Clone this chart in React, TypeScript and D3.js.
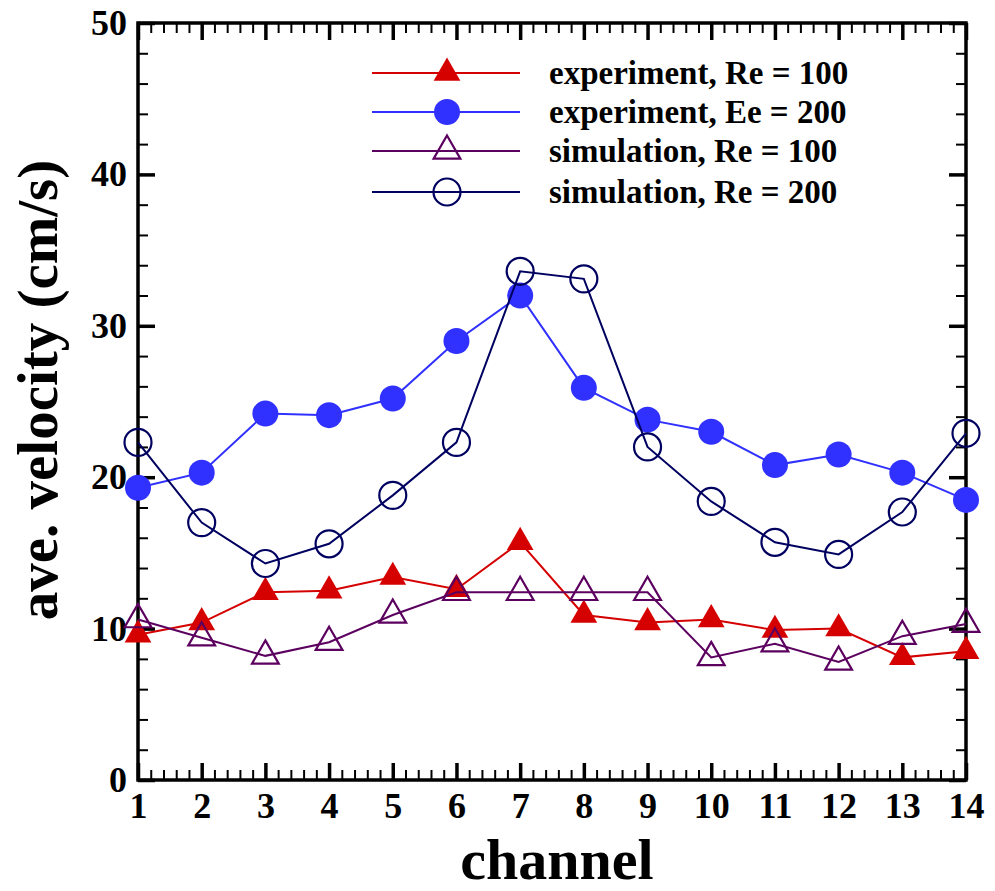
import * as d3 from "d3";
import { useEffect, useRef } from "react";

const channels = [1, 2, 3, 4, 5, 6, 7, 8, 9, 10, 11, 12, 13, 14];
const expRe100 = [9.6, 10.4, 12.4, 12.5, 13.4, 12.6, 15.7, 10.9, 10.4, 10.6, 9.9, 10.0, 8.1, 8.5];
const expRe200 = [19.3, 20.3, 24.2, 24.1, 25.2, 29.0, 32.0, 25.9, 23.8, 23.0, 20.8, 21.5, 20.3, 18.5];
const simRe100 = [10.6, 9.4, 8.2, 9.1, 10.9, 12.4, 12.4, 12.4, 12.4, 8.1, 9.0, 7.8, 9.5, 10.3];
const simRe200 = [22.3, 17.0, 14.3, 15.6, 18.8, 22.3, 33.6, 33.1, 22.0, 18.4, 15.7, 14.9, 17.7, 22.9];
const seriesNames = [
  "experiment, Re = 100",
  "experiment, Ee = 200",
  "simulation, Re = 100",
  "simulation, Re = 200",
];
const yTicks = [0, 10, 20, 30, 40, 50];

const series = [
  { name: seriesNames[0], values: expRe100, color: "#d50000", shape: "triangle", filled: true },
  { name: seriesNames[1], values: expRe200, color: "#3030ff", shape: "circle", filled: true },
  { name: seriesNames[2], values: simRe100, color: "#5c0060", shape: "triangle", filled: false },
  { name: seriesNames[3], values: simRe200, color: "#000060", shape: "circle", filled: false },
];

const FONT = "'Liberation Serif', 'Times New Roman', serif";

function App() {
  const ref = useRef<SVGSVGElement>(null);

  useEffect(() => {
    const svg = d3.select(ref.current);
    svg.selectAll("*").remove();

    const left = 138;
    const right = 966;
    const top = 23;
    const bottom = 780;

    const x = d3.scaleLinear().domain([1, 14]).range([left, right]);
    const y = d3.scaleLinear().domain([0, 50]).range([bottom, top]);

    const xMinor = d3.range(1, 14.001, 0.2).filter((v) => Math.abs(v - Math.round(v)) > 0.01);
    const yMinor = d3.range(0, 50.001, 2).filter((v) => v % 10 !== 0);

    // minor ticks on all four sides
    const minor = (axis: any, tr: string) => {
      const g = svg.append("g").attr("transform", tr).call(axis);
      g.select(".domain").remove();
      g.selectAll("text").remove();
      g.selectAll("line").attr("stroke", "#000").attr("stroke-width", 2);
    };
    minor(d3.axisBottom(x).tickValues(xMinor).tickSize(-10), `translate(0,${bottom})`);
    minor(d3.axisTop(x).tickValues(xMinor).tickSize(-10), `translate(0,${top})`);
    minor(d3.axisLeft(y).tickValues(yMinor).tickSize(-10), `translate(${left},0)`);
    minor(d3.axisRight(y).tickValues(yMinor).tickSize(-10), `translate(${right},0)`);

    // major ticks
    const major = (axis: any, tr: string, labels: boolean) => {
      const g = svg.append("g").attr("transform", tr).call(axis);
      g.select(".domain").remove();
      g.selectAll("line").attr("stroke", "#000").attr("stroke-width", 3.5);
      if (!labels) g.selectAll("text").remove();
      g.selectAll("text")
        .attr("fill", "#000")
        .style("font-family", FONT)
        .style("font-weight", "bold")
        .style("font-size", "36px");
      return g;
    };
    major(d3.axisBottom(x).tickValues(channels).tickSize(-17).tickPadding(12).tickFormat(d3.format("d")), `translate(0,${bottom})`, true);
    major(d3.axisTop(x).tickValues(channels).tickSize(-17), `translate(0,${top})`, false);
    major(d3.axisLeft(y).tickValues(yTicks).tickSize(-17).tickPadding(11).tickFormat(d3.format("d")), `translate(${left},0)`, true);
    major(d3.axisRight(y).tickValues(yTicks).tickSize(-17), `translate(${right},0)`, false);

    // frame
    svg
      .append("rect")
      .attr("x", left)
      .attr("y", top)
      .attr("width", right - left)
      .attr("height", bottom - top)
      .attr("fill", "none")
      .attr("stroke", "#000")
      .attr("stroke-width", 3.5);

    const line = d3
      .line<number>()
      .x((d, i) => x(channels[i]))
      .y((d) => y(d));

    const triangle = d3.symbol().type(d3.symbolTriangle).size(310);
    const circleFilled = d3.symbol().type(d3.symbolCircle).size(Math.PI * 13 * 13);
    const circleOpen = d3.symbol().type(d3.symbolCircle).size(Math.PI * 13.5 * 13.5);

    const markerPath = (s: any) =>
      s.shape === "triangle" ? triangle() : s.filled ? circleFilled() : circleOpen();

    series.forEach((s) => {
      svg
        .append("path")
        .datum(s.values)
        .attr("fill", "none")
        .attr("stroke", s.color)
        .attr("stroke-width", 2)
        .attr("d", line);

      svg
        .append("g")
        .selectAll("path")
        .data(s.values)
        .join("path")
        .attr("transform", (d, i) => `translate(${x(channels[i])},${y(d)})`)
        .attr("d", markerPath(s))
        .attr("fill", s.filled ? s.color : "none")
        .attr("stroke", s.color)
        .attr("stroke-width", s.filled ? 0 : 2.2);
    });

    // legend
    const legend = svg.append("g");
    const rowY = [73, 112, 151, 192];
    series.forEach((s, i) => {
      const ly = rowY[i];
      legend
        .append("line")
        .attr("x1", 372)
        .attr("x2", 520)
        .attr("y1", ly)
        .attr("y2", ly)
        .attr("stroke", s.color)
        .attr("stroke-width", 2);
      legend
        .append("path")
        .attr("transform", `translate(447,${ly})`)
        .attr("d", markerPath(s))
        .attr("fill", s.filled ? s.color : "none")
        .attr("stroke", s.color)
        .attr("stroke-width", s.filled ? 0 : 2.2);
      legend
        .append("text")
        .attr("x", 549)
        .attr("y", ly + 11)
        .style("font-family", FONT)
        .style("font-weight", "bold")
        .style("font-size", "33px")
        .text(s.name);
    });

    // axis titles
    svg
      .append("text")
      .attr("x", 557)
      .attr("y", 879)
      .attr("text-anchor", "middle")
      .style("font-family", FONT)
      .style("font-weight", "bold")
      .style("font-size", "58px")
      .text("channel");

    svg
      .append("text")
      .attr("transform", `translate(57,390) rotate(-90)`)
      .attr("text-anchor", "middle")
      .style("font-family", FONT)
      .style("font-weight", "bold")
      .style("font-size", "57px")
      .text("ave. velocity (cm/s)");
  }, []);

  return (
    <svg
      ref={ref}
      width={995}
      height={891}
      style={{ position: "absolute", left: 0, top: 0, background: "#fff" }}
    />
  );
}

export default App;
